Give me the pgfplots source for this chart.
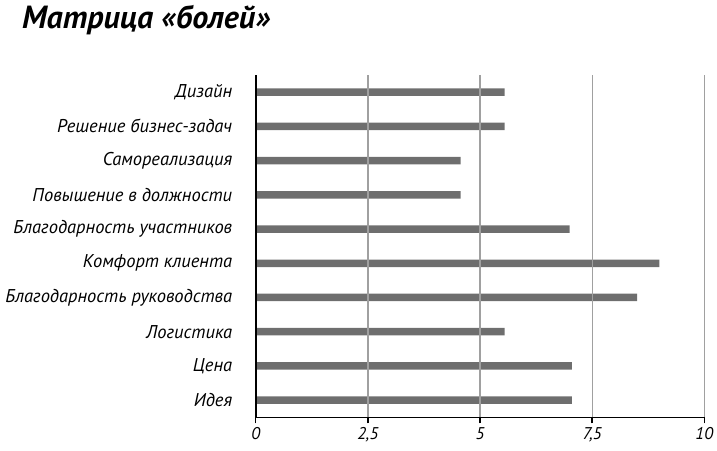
\documentclass[border=0pt]{standalone}
\usepackage{fontspec}
\setmainfont{PT Sans}
\usepackage{pgfplots}
\pgfplotsset{compat=1.18}
\definecolor{barc}{HTML}{6E6E6E}
\definecolor{gridc}{HTML}{A0A0A0}
\begin{document}
\begin{tikzpicture}[x=1pt,y=1pt]
\path[use as bounding box] (0,0) rectangle (717,450);
\node[anchor=base west, inner sep=0pt, font=\fontsize{32}{34}\selectfont\bfseries\itshape] at (22,421) {Матрица «болей»};
\begin{axis}[
    at={(255.7pt,32.7pt)}, anchor=south west,
    scale only axis, width=448.6pt, height=342.3pt,
    xmin=0, xmax=10, ymin=-0.5, ymax=9.5,
    axis lines=left,
    axis line style={-, line width=1.6pt, black},
    axis on top,
    xtick={0,2.5,5,7.5,10},
    xticklabels={0,{2,5},5,{7,5},10},
    xmajorgrids,
    grid style={gridc, line width=1.3pt},
    ytick={0,...,9},
    yticklabels={Идея,Цена,Логистика,Благодарность руководства,Комфорт клиента,Благодарность участников,Повышение в должности,Самореализация,Решение бизнес-задач,Дизайн},
    minor ytick={-0.5,0.5,...,9.5},
    ytick style={draw=none},
    minor y tick style={line width=1.6pt, black},
    xtick style={line width=1.4pt, black},
    tick align=outside,
    major tick length=6pt,
    minor tick length=9pt,
    yticklabel style={font=\fontsize{18.5}{20}\selectfont\itshape, xshift=-14pt},
    xticklabel style={font=\fontsize{17}{19}\selectfont\itshape, yshift=-1pt},
    xbar, bar width=7.5pt,
]
\addplot[fill=barc, draw=none] coordinates {
    (7.05,0) (7.05,1) (5.55,2) (8.5,3) (9.0,4) (7.0,5) (4.57,6) (4.57,7) (5.55,8) (5.55,9)
};
\end{axis}
\end{tikzpicture}
\end{document}
